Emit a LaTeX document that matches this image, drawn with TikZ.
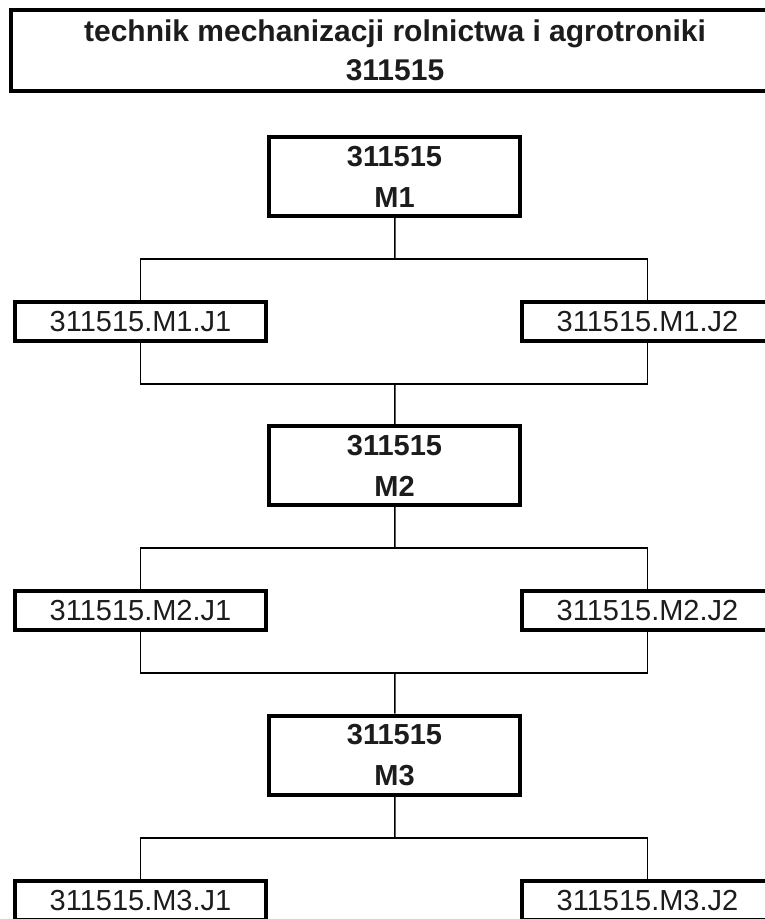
\documentclass[tikz,border=0pt]{standalone}
\usepackage{fontspec}
\setmainfont{Liberation Sans}
\usepackage{xcolor}
\usepackage{tikz}
\usetikzlibrary{positioning,calc}
\definecolor{textdark}{HTML}{1C1C1C}
\definecolor{borderblack}{HTML}{000000}

\begin{document}
\begin{tikzpicture}[
  x=1pt,y=-1pt,
  every node/.style={align=center,text=textdark,inner sep=0pt},
  titlenode/.style={draw=borderblack,line width=4pt,minimum width=768pt,minimum height=81pt,font=\fontsize{30}{39}\selectfont\bfseries},
  modnode/.style={draw=borderblack,line width=4pt,minimum width=251pt,minimum height=79pt,font=\fontsize{29}{41}\selectfont\bfseries},
  unitnode/.style={draw=borderblack,line width=4pt,minimum width=251pt,minimum height=39pt,font=\fontsize{29}{33}\selectfont},
  link/.style={line width=1.5pt,draw=borderblack}
]
\useasboundingbox (0,0) rectangle (765,919);
\clip (0,0) rectangle (765,919);

\node[titlenode] (title) at (395,50.5) {technik mechanizacji rolnictwa i agrotroniki\\311515};

\node[modnode] (m1) at (394.5,176.5) {311515\\M1};
\node[unitnode] (m1j1) at (140.5,321.5) {311515.M1.J1};
\node[unitnode] (m1j2) at (647.5,321.5) {311515.M1.J2};

\node[modnode] (m2) at (394.5,465.5) {311515\\M2};
\node[unitnode] (m2j1) at (140.5,610.5) {311515.M2.J1};
\node[unitnode] (m2j2) at (647.5,610.5) {311515.M2.J2};

\node[modnode] (m3) at (394.5,755) {311515\\M3};
\node[unitnode] (m3j1) at (140.5,900.5) {311515.M3.J1};
\node[unitnode] (m3j2) at (647.5,900.5) {311515.M3.J2};

\coordinate (fork1) at (395,259);
\coordinate (join1) at (395,384);
\coordinate (fork2) at (395,548);
\coordinate (join2) at (395,673);
\coordinate (fork3) at (395,838);

\draw[link] (m1) -- (fork1);
\draw[link] (m1j1.north) |- (fork1) -| (m1j2.north);
\draw[link] (m1j1.south) |- (join1) -| (m1j2.south);
\draw[link] (join1) -- (m2);
\draw[link] (m2) -- (fork2);
\draw[link] (m2j1.north) |- (fork2) -| (m2j2.north);
\draw[link] (m2j1.south) |- (join2) -| (m2j2.south);
\draw[link] (join2) -- (m3);
\draw[link] (m3) -- (fork3);
\draw[link] (m3j1.north) |- (fork3) -| (m3j2.north);
\end{tikzpicture}
\end{document}
